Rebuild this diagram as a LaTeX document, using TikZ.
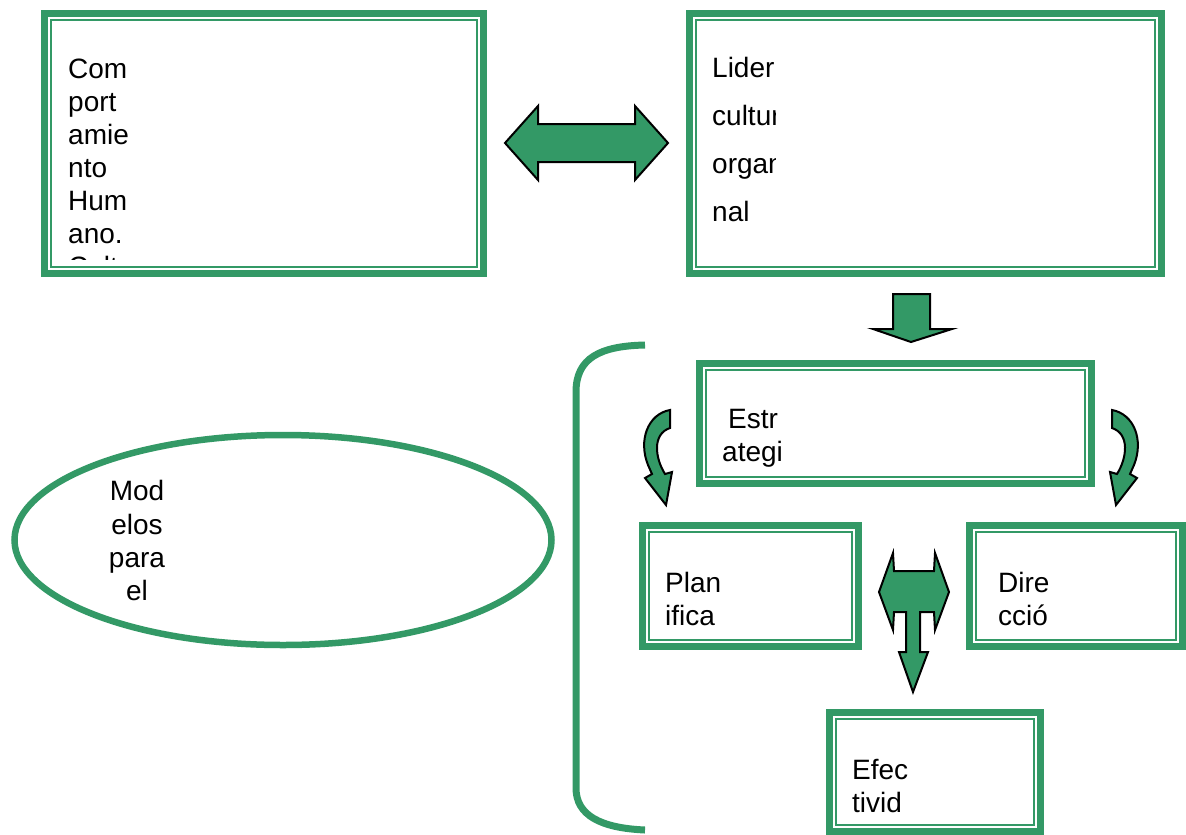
\documentclass[tikz,border=0pt]{standalone}
\usepackage{fontspec}
\setmainfont{Liberation Sans}
\usetikzlibrary{shapes.geometric}
\definecolor{sea}{HTML}{339966}

\begin{document}
\begin{tikzpicture}[x=1pt,y=-1pt,
  frame/.style={draw=sea, line width=7pt, fill=white, inner sep=0pt, outer sep=0pt},
  rim/.style={draw=sea, line width=2pt},
  txt/.style={font=\fontsize{28}{33}\selectfont, inner sep=0pt, anchor=base west},
  ctxt/.style={font=\fontsize{28}{33}\selectfont, inner sep=0pt, anchor=base},
  block/.style={fill=sea, draw=black, line width=2pt, line join=miter},
  brace/.style={draw=sea, line width=7pt},
]
\useasboundingbox (0,0) rectangle (1186,835);

% framed boxes: thick outer border with a thin inner rule
\node[frame, minimum width=439pt, minimum height=260pt] (comp) at (264,143.5) {};
\node[frame, minimum width=472pt, minimum height=260pt] (lid) at (925.5,143.5) {};
\node[frame, minimum width=392pt, minimum height=120pt] (estr) at (895.5,423.5) {};
\node[frame, minimum width=216pt, minimum height=121pt] (plan) at (750.5,586) {};
\node[frame, minimum width=213pt, minimum height=121pt] (dire) at (1076,586) {};
\node[frame, minimum width=211pt, minimum height=119pt] (efec) at (935,772) {};
\foreach \b in {comp,lid,estr,plan,dire,efec}
  \draw[rim] ([xshift=6.5pt,yshift=-6.5pt]\b.north west) rectangle ([xshift=-6.5pt,yshift=6.5pt]\b.south east);

% text of the first box, cut off by its frame
\begin{scope}
  \clip (52,20) rectangle (478,259);
  \node[txt] (c1) at (68,78) {Com};
  \node[txt] (c2) at (68,111) {port};
  \node[txt] (c3) at (68,144) {amie};
  \node[txt] (c4) at (68,177) {nto};
  \node[txt] (c5) at (68,210) {Hum};
  \node[txt] (c6) at (68,243) {ano.};
  \node[txt] (c7) at (68,276) {Cult};
\end{scope}

% text of the second box, cut off on the right
\begin{scope}
  \clip (695,20) rectangle (775,268);
  \node[txt] (l1) at (712,77) {Lider};
  \node[txt] (l2) at (712,125) {cultur};
  \node[txt] (l3) at (712,173) {organ};
  \node[txt] (l4) at (712,221) {nal};
\end{scope}

\node[txt] (e1) at (728,428) {Estr};
\node[txt] (e2) at (722,461) {ategi};
\node[txt] (p1) at (665,592) {Plan};
\node[txt] (p2) at (665,625) {ifica};
\node[txt] (d1) at (998,592) {Dire};
\node[txt] (d2) at (998,625) {cció};
\node[txt] (f1) at (852,779) {Efec};
\node[txt] (f2) at (852,812) {tivid};

% ellipse with its text
\node[draw=sea, line width=6.5pt, ellipse, inner sep=0pt, minimum width=537pt, minimum height=210pt] (mod) at (283,540) {};
\node[ctxt] (m1) at (137,500) {Mod};
\node[ctxt] (m2) at (137,534) {elos};
\node[ctxt] (m3) at (137,567) {para};
\node[ctxt] (m4) at (137,600) {el};

% bracket on the left of the lower group
\draw[brace] (645,345) .. controls (600,346) and (576,358) .. (576,392) -- (576,788)
  .. controls (576,815) and (600,828) .. (645,830);

% block arrows
\draw[block] (505,143) -- (538,106) -- (538,124) -- (635,124) -- (635,106) -- (668,143)
  -- (635,180) -- (635,162) -- (538,162) -- (538,180) -- cycle;
\draw[block] (893,294) -- (930,294) -- (930,329) -- (952,329) -- (911,342) -- (873,329)
  -- (893,329) -- cycle;
\draw[block] (670,410) .. controls (648,414) and (638,440) .. (648,465) -- (652,474)
  -- (645,478) -- (666,505) -- (672,472) -- (665,474)
  .. controls (655,458) and (652,434) .. (670,428) -- cycle;
\draw[block] (1112,410) .. controls (1134,414) and (1144,440) .. (1134,465) -- (1130,474)
  -- (1137,478) -- (1116,505) -- (1110,472) -- (1117,474)
  .. controls (1127,458) and (1130,434) .. (1112,428) -- cycle;
\draw[block] (879,592) -- (893,553) -- (894,571) -- (934,571) -- (935,553) -- (949,592)
  -- (935,630) -- (934,612) -- (920,612) -- (920,652) -- (928,652) -- (913,692)
  -- (899,652) -- (906,652) -- (906,612) -- (894,612) -- (893,630) -- cycle;
\end{tikzpicture}
\end{document}
